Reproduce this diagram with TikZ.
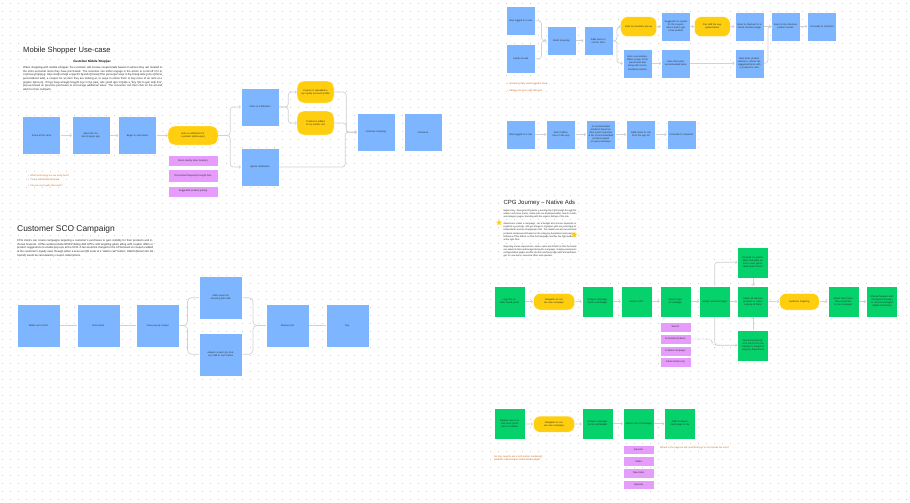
\documentclass[tikz,border=0pt]{standalone}
\usepackage{fontspec}
\setmainfont{Liberation Sans}
\usetikzlibrary{arrows.meta,positioning,shapes.geometric,patterns.meta}

\definecolor{boxblue}{HTML}{7DB6FF}
\definecolor{boxgreen}{HTML}{05D26B}
\definecolor{pillyellow}{HTML}{FFCF0F}
\definecolor{tagpink}{HTML}{E59CFB}
\definecolor{notecolor}{HTML}{D4691C}
\definecolor{linegrey}{HTML}{D2D2D2}
\definecolor{dotgrey}{HTML}{BDBDBD}
\definecolor{inkgrey}{HTML}{2E2E2E}

\newcommand{\boxfont}{\fontsize{2.4}{3.1}\selectfont}
\newcommand{\parafont}{\fontsize{2.75}{3.6}\selectfont}

\tikzdeclarepattern{
  name=canvasdots,
  type=uncolored,
  bounding box={(0pt,0pt) and (8pt,8pt)},
  tile size={(8pt,8pt)},
  code={\fill (4pt,4pt) circle (0.5pt);}
}

\begin{document}
\begin{tikzpicture}[x=1pt,y=-1pt]
\tikzset{
  card/.style={rectangle,draw=white,line width=0.4pt,align=center,font=\boxfont,text=inkgrey,inner sep=1pt},
  bigbox/.style={card,fill=boxblue,minimum width=38pt,minimum height=38pt,text width=30pt},
  scobox/.style={card,fill=boxblue,minimum width=43pt,minimum height=43pt,text width=32pt},
  smallbox/.style={card,fill=boxblue,minimum width=29pt,minimum height=29pt,text width=25pt},
  greenbox/.style={card,fill=boxgreen,minimum width=31pt,minimum height=31pt,text width=27pt},
  pill/.style={card,fill=pillyellow,rounded corners=7pt,text width=#1},
  pill/.default=30pt,
  tag/.style={card,fill=tagpink,minimum height=9.5pt,text width=28pt},
  note/.style={anchor=west,font=\boxfont,text=notecolor,inner sep=0pt},
  heading/.style={anchor=west,text=black!85,inner sep=0pt},
  para/.style={anchor=north west,align=justify,font=\parafont,text=inkgrey,inner sep=0pt},
  flow/.style={draw=linegrey,line width=0.7pt,rounded corners=3pt,-{Straight Barb[length=1.3pt,width=2.8pt]}},
  link/.style={draw=linegrey,line width=0.7pt,rounded corners=4pt}
}
\useasboundingbox (0,0) rectangle (910,503);
\fill[white] (0,0) rectangle (910,503);
% dot grid of the canvas
\fill[pattern=canvasdots,pattern color=dotgrey] (0,0) rectangle (910,503);

% ---------- Mobile Shopper Use-case ----------
\node[heading,font=\fontsize{7.6}{9}\selectfont] (t_mobile) at (23,51) {Mobile Shopper Use-case};
\node[anchor=center,font=\fontsize{3}{3.6}\selectfont\bfseries,inner sep=0pt] (t_mobilesub) at (92,61.5) {Customer Mobile Shopper};
\node[para,text width=139pt] (p_mobile) at (23,66.5) {When shopping with mobile shopper, the customer will receive coupons/ads based on where they are located in the store and what items they have purchased. The customer can either engage in the action or scroll off of it to continue shopping. Ads could include a specific brand of bread if the consumer were in the bread aisle (one of those personalized ads), a coupon for an item they are looking at, or ways to entice them to buy more of an item at a greater discount. If they have already bought one in the past, ads could also include a ``buy this to pair with this'' pop-up based on previous purchases to encourage additional sales. The consumer can then click on the ad and add it to their cart/path.};

\node[bigbox] (n_arrive) at (41.5,135.5) {Arrive at the store};
\node[bigbox] (n_openapp) at (91,135.5) {Open the mobile shopper app};
\node[bigbox] (n_scan) at (137.5,135.5) {Begin to scan items};
\node[pill=44pt,minimum width=50pt,minimum height=19pt] (n_notify) at (193,135.5) {Gets a notification for a product (ad/coupon)};
\node[tag,minimum width=50pt,text width=44pt,minimum height=11pt] (n_nearby) at (193,160.5) {Items nearby (See location)};
\node[tag,minimum width=50pt,text width=40pt,minimum height=13pt] (n_discount) at (193,175.7) {Discounted frequently bought item};
\node[tag,minimum width=50pt,text width=44pt,minimum height=11pt] (n_pairing) at (193,191.3) {Suggested product pairing};
\node[bigbox] (n_useon) at (260,107) {Click on notification};
\node[bigbox] (n_ignore) at (260,167) {Ignore notification};
\node[pill=30pt,minimum width=37pt,minimum height=22pt] (n_loyalty) at (315.5,92) {Coupon is uploaded to my loyalty account/ profile};
\node[pill=30pt,minimum width=37pt,minimum height=24pt] (n_addcart) at (315.5,123) {Product is added to my mobile cart};
\node[bigbox] (n_continue) at (376,132.3) {Continue shopping};
\node[bigbox] (n_checkout) at (423,132.3) {Checkout};

\node[note] (m_note1) at (28,175.7) {•\; What technology are we using here?};
\node[note] (m_note2) at (28,179.8) {•\; Tie-up with Mobile Shopper};
\node[note] (m_note3) at (28,186.3) {•\; Can we use loyalty discounts?};

\draw[flow] (n_arrive) -- (n_openapp);
\draw[flow] (n_openapp) -- (n_scan);
\draw[flow] (n_scan) -- (n_notify);
\draw[flow] (n_notify.east) -- ++(12,0) |- (n_useon.west);
\draw[flow] (n_notify.east) -- ++(12,0) |- (n_ignore.west);
\draw[flow] (n_useon.east) -- ++(9,0) |- (n_loyalty.west);
\draw[flow] (n_useon.east) -- ++(9,0) |- (n_addcart.west);
\draw[flow] (n_loyalty.east) -- ++(12,0) |- (n_continue.west);
\draw[flow] (n_addcart.east) -- ++(12,0) |- (n_continue.west);
\draw[flow] (n_ignore.east) -- ++(66,0) |- (n_continue.west);

% ---------- Customer SCO Campaign ----------
\node[heading,font=\fontsize{8.4}{10}\selectfont] (t_sco) at (17,229) {Customer SCO Campaign};
\node[para,text width=136pt] (p_sco) at (17,239.5) {CPG clients can create campaigns targeting a customer's purchases to gain visibility for their products and increase revenue. CPGs would provide NCR/Prodlog with UPCs and targeting goals along with coupon offers or product suggestions to enable pop-ups at the SCO. A fee would be charged to the CPG based on coupons added to the customer's loyalty card, through either a scan-out QR code or a ``add to cart'' button. ROAS (Return On Ad Spend) would be calculated by coupon redemptions.};

\node[scobox] (n_walks) at (38.3,325.5) {Walks up to SCO};
\node[scobox] (n_scanitems) at (98.2,325.5) {Scan items};
\node[scobox] (n_popup) at (157.8,325.5) {View pop-up coupon};
\node[scobox] (n_qr) at (220.8,297.7) {Add coupon by scanning QR code};
\node[scobox] (n_redeem) at (220.8,354.2) {redeem coupon by clicking ``add to cart'' button};
\node[scobox] (n_review) at (287.5,325.5) {Review Cart};
\node[scobox] (n_pay) at (347.2,325.5) {Pay};

\draw[link] (n_walks) -- (n_scanitems);
\draw[link] (n_scanitems) -- (n_popup);
\draw[link] (n_popup.east) -- ++(8,0) |- (n_qr.west);
\draw[link] (n_popup.east) -- ++(8,0) |- (n_redeem.west);
\draw[link] (n_qr.east) -- ++(10.5,0) |- (n_review.west);
\draw[link] (n_redeem.east) -- ++(10.5,0) |- (n_review.west);
\draw[link] (n_review) -- (n_pay);

% ---------- Online journey (top right) ----------
\node[smallbox] (n_logged) at (520.8,20.8) {Was logged in to site};
\node[smallbox] (n_lands) at (520.8,58.8) {Lands via ads};
\node[smallbox] (n_browse) at (561.2,40.8) {Starts browsing};
\node[smallbox] (n_addsku) at (598.3,40.8) {Adds items to cart for SKU};
\node[pill=28pt,minimum width=36pt,minimum height=20pt] (n_incentive) at (638.7,26.7) {Gets an incentive pop-up};
\node[smallbox] (n_spend) at (675.7,26.3) {Suggestion to spend for the coupon above and to get a free product};
\node[smallbox] (n_popuprec) at (637.5,63.3) {Gets a recommendation popup of the parent item that along with recommended products};
\node[smallbox] (n_seesdisc) at (675.7,63.3) {Sees discounts/ recommended items};
\node[pill=28pt,minimum width=36pt,minimum height=20pt] (n_suggested) at (712.3,26.7) {Can add the suggested items};
\node[smallbox] (n_virtual) at (749.2,26.3) {Goes to checkout to a virtual checkout page};
\node[smallbox] (n_prodscreen) at (785.5,26.3) {Goes to the checkout product screen};
\node[smallbox] (n_proceed) at (822,26.3) {Proceeds to checkout};
\node[smallbox] (n_selection) at (749.2,63.3) {Gets items product selection, checks the suggested items with a product for sale};

\node[note] (o_note1) at (507,84.3) {•\; Assuming they were logged in store};
\node[note] (o_note2) at (507,91) {•\; Adding one more with discount};

\draw[flow] (n_logged.east) -- ++(6,0) |- (n_browse.west);
\draw[flow] (n_lands.east) -- ++(6,0) |- (n_browse.west);
\draw[flow] (n_browse) -- (n_addsku);
\draw[flow] (n_addsku.east) -- ++(4,0) |- (n_incentive.west);
\draw[flow] (n_addsku.east) -- ++(4,0) |- (n_popuprec.west);
\draw[flow] (n_incentive) -- (n_spend);
\draw[flow] (n_spend) -- (n_suggested);
\draw[flow] (n_suggested) -- (n_virtual);
\draw[flow] (n_virtual) -- (n_prodscreen);
\draw[flow] (n_prodscreen) -- (n_proceed);
\draw[flow] (n_popuprec) -- (n_seesdisc);
\draw[flow] (n_seesdisc) -- (n_selection);
\draw[flow] (n_selection.east) -- ++(4,0) |- (n_prodscreen.west);

\node[smallbox] (n_wasin) at (520.7,134.5) {Was logged in to site};
\node[smallbox] (n_getsnotif) at (561,134.5) {Gets notifications in the app};
\node[smallbox] (n_pricing) at (600.8,134.5) {Is recommended products based on their recent searches \& list of recommended products based on past purchases};
\node[smallbox] (n_addsmore) at (641,134.5) {Adds items to cart from the app list};
\node[smallbox] (n_proceedtwo) at (681.2,134.5) {Proceeds to checkout};

\draw[flow] (n_wasin) -- (n_getsnotif);
\draw[flow] (n_getsnotif) -- (n_pricing);
\draw[flow] (n_pricing) -- (n_addsmore);
\draw[flow] (n_addsmore) -- (n_proceedtwo);

% ---------- CPG Journey - Native Ads ----------
\node[heading,font=\fontsize{6}{7}\selectfont] (t_cpg) at (503.3,202.7) {CPG Journey -- Native Ads};
\node[para,text width=73pt,font=\fontsize{2.3}{3.3}\selectfont] (p_cpg) at (503.3,209.5) {Native Ads -- Sponsored Products. Launched by CPG brands through the retailer self-serve portal, native ads are displayed within search results and category pages, blending with the organic listings of the site.\par\smallskip
Advertisers create a campaign, set a budget and choose keywords or products to promote. Ads are shown to shoppers who are searching for related items and are charged per click. The retailer can also recommend products and keywords based on the category, department and past performance of the brand, so that the campaign reaches the right audience at the right time.\par\smallskip
Reporting shows impressions, clicks, sales and ROAS so that the brand can adjust its bids and budget during the campaign. Display placements on department pages and the site can also be bought with a limited budget, for new items, seasonal offers and specials.};
\node[star,star points=5,star point ratio=2.2,fill=pillyellow,inner sep=0pt,minimum size=6pt] (s_starone) at (499,222.7) {};
\node[star,star points=5,star point ratio=2.2,fill=pillyellow,inner sep=0pt,minimum size=6pt] (s_startwo) at (574.3,235) {};

\node[greenbox] (n_logsin) at (509.5,301.5) {Logs into retailer brand portal};
\node[pill=34pt,minimum width=41.4pt,minimum height=16.7pt] (n_navigate) at (554,301.7) {Navigates to create new campaign};
\node[greenbox] (n_assigns) at (597.5,301.5) {Assigns campaign name and Budget};
\node[greenbox] (n_kpis) at (636.5,301.5) {Selects KPIs};
\node[greenbox] (n_seltype) at (675.3,301.5) {Selects type of campaign};
\node[tag,minimum width=31pt] (n_search) at (675.3,327) {Search};
\node[tag,minimum width=31pt] (n_promoted) at (675.3,339) {Promoted products};
\node[tag,minimum width=31pt] (n_creative) at (675.3,351) {Creative campaign};
\node[tag,minimum width=31pt] (n_email) at (675.3,362.3) {Future Email only};
\node[greenbox] (n_budget) at (714.7,301.5) {Assign relevant budget};
\node[greenbox] (n_searchterms) at (753,262.2) {If based on search, filters manually select or auto generated search terms};
\node[greenbox] (n_selectall) at (753,301.5) {Select all relevant products or select a group of items};
\node[greenbox] (n_recommend) at (753,345.3) {Recommend products/ items from the relevant or based on category department};
\node[pill=34pt,minimum width=40pt,minimum height=16.7pt] (n_audience) at (799.3,301.7) {Audience targeting};
\node[greenbox] (n_timeframe) at (843.2,301.5) {Select time frame they would like to run campaign};
\node[greenbox] (n_choose) at (882,301.5) {Choose between self-managed campaign or use pre-managed digital advertising};

\draw[flow] (n_logsin) -- (n_navigate);
\draw[flow] (n_navigate) -- (n_assigns);
\draw[flow] (n_assigns) -- (n_kpis);
\draw[flow] (n_kpis) -- (n_seltype);
\draw[flow] (n_seltype) -- (n_budget);
\draw[flow] (n_budget) -- (n_selectall);
\draw[flow] (n_budget.north) |- (n_searchterms.west);
\draw[flow] (n_budget.south) |- (n_recommend.west);
\draw[link,dash pattern=on 1pt off 1pt] (n_promoted.east) -- ++(21,0) |- (n_recommend.west);
\draw[flow] (n_searchterms) -- (n_selectall);
\draw[flow] (n_recommend) -- (n_selectall);
\draw[flow] (n_selectall) -- (n_audience);
\draw[flow] (n_audience) -- (n_timeframe);
\draw[flow] (n_timeframe) -- (n_choose);

\node[greenbox] (n_retailer) at (509.7,423.8) {Retailer logs in to self-serve portal (Not in retailer)};
\node[pill=34pt,minimum width=41.4pt,minimum height=16.3pt] (n_navigatetwo) at (554,424.2) {Navigates to create new campaign};
\node[greenbox] (n_assignstwo) at (597.5,423.8) {Assigns campaign name and Budget};
\node[greenbox] (n_selslot) at (638.7,423.8) {Selects slot of campaign};
\node[greenbox] (n_addsdept) at (680,423.8) {Adds to department page or site};
\node[tag,minimum width=31pt] (n_banners) at (638.7,449.7) {Banners};
\node[tag,minimum width=31pt] (n_slides) at (638.7,461.3) {Slides};
\node[tag,minimum width=31pt] (n_newitems) at (638.7,473) {New items};
\node[tag,minimum width=31pt] (n_specials) at (638.7,484.7) {Specials};

\node[note] (c_note1) at (494,456.7) {Do they need to ask a self-prompt marketing?};
\node[note] (c_note2) at (494,460.2) {Benefits of placements with limited budget?};
\node[note] (c_note3) at (660,447.7) {Where in the page do ads specifically go to not impede the user?};

\draw[flow] (n_retailer) -- (n_navigatetwo);
\draw[flow] (n_navigatetwo) -- (n_assignstwo);
\draw[flow] (n_assignstwo) -- (n_selslot);
\draw[flow] (n_selslot) -- (n_addsdept);
\end{tikzpicture}
\end{document}
